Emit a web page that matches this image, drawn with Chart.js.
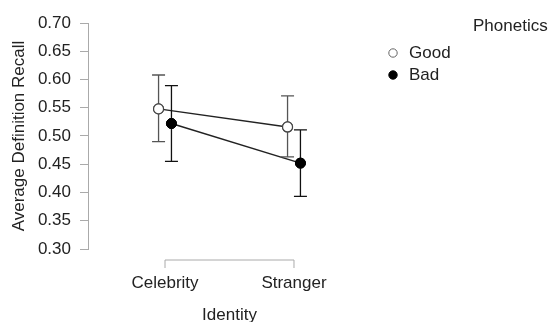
<!DOCTYPE html>
<html>
<head>
<meta charset="utf-8">
<script src="https://cdn.jsdelivr.net/npm/chart.js@4"></script>
<style>
  html, body { margin: 0; padding: 0; background: #fff; }
  #wrap { width: 551px; height: 322px; }
</style>
</head>
<body>
<div id="wrap"><canvas id="chartCanvas"></canvas></div>
<script>
// data
const categories = ['Celebrity', 'Stranger'];
const seriesNames = ['Good', 'Bad'];
const goodMean = [0.548, 0.516];
const goodLow = [0.490, 0.463];
const goodHigh = [0.608, 0.571];
const badMean = [0.522, 0.452];
const badLow = [0.455, 0.393];
const badHigh = [0.589, 0.511];
const yTicks = [0.30, 0.35, 0.40, 0.45, 0.50, 0.55, 0.60, 0.65, 0.70];

const dodge = 0.05;
const font = "'Liberation Sans', Arial, sans-serif";
const axisColor = '#aaaaaa';

function points(means, shift) {
    return means.map((m, i) => ({ x: i + shift, y: m }));
}

// error bars + bracket x axis + legend
const extras = {
    id: 'extras',
    afterDatasetsDraw(chart) {
        const ctx = chart.ctx;
        const xs = chart.scales.x;
        const ys = chart.scales.y;
        const bars = [[goodLow, goodHigh, -dodge, '#555555'], [badLow, badHigh, dodge, '#111111']];
        ctx.save();
        ctx.lineWidth = 1.3;
        bars.forEach(([lo, hi, shift, col]) => {
            ctx.strokeStyle = col;
            lo.forEach((v, i) => {
                const x = xs.getPixelForValue(i + shift);
                const y1 = ys.getPixelForValue(v);
                const y2 = ys.getPixelForValue(hi[i]);
                ctx.beginPath();
                ctx.moveTo(x, y1); ctx.lineTo(x, y2);
                ctx.moveTo(x - 6.5, y1); ctx.lineTo(x + 6.5, y1);
                ctx.moveTo(x - 6.5, y2); ctx.lineTo(x + 6.5, y2);
                ctx.stroke();
            });
        });
        ctx.restore();
        // redraw points on top of the bars
        chart.getSortedVisibleDatasetMetas().forEach(meta => {
            meta.data.forEach(pt => pt.draw(ctx, chart.chartArea));
        });
    },
    afterDraw(chart) {
        const ctx = chart.ctx;
        const xs = chart.scales.x;
        const a = chart.chartArea;
        ctx.save();
        // x axis bracket
        const yb = a.bottom + 11;
        const x0 = xs.getPixelForValue(0);
        const x1 = xs.getPixelForValue(categories.length - 1);
        ctx.strokeStyle = axisColor;
        ctx.lineWidth = 1;
        ctx.beginPath();
        ctx.moveTo(x0, yb + 8); ctx.lineTo(x0, yb); ctx.lineTo(x1, yb); ctx.lineTo(x1, yb + 8);
        ctx.stroke();
        // legend
        ctx.font = '17px ' + font;
        ctx.fillStyle = '#222';
        ctx.textBaseline = 'middle';
        ctx.textAlign = 'left';
        ctx.fillText('Phonetics', 473, 26);
        chart.data.datasets.forEach((ds, i) => {
            const y = 53 + i * 22;
            ctx.beginPath();
            ctx.arc(393, y, 4.2, 0, Math.PI * 2);
            ctx.fillStyle = ds.pointBackgroundColor;
            ctx.fill();
            ctx.lineWidth = 1;
            ctx.strokeStyle = i === 0 ? '#666' : '#000';
            ctx.stroke();
            ctx.fillStyle = '#222';
            ctx.fillText(ds.label, 409, y);
        });
        ctx.restore();
    }
};

const ctx = document.getElementById('chartCanvas').getContext('2d');
const chart = new Chart(ctx, {
    type: 'line',
    data: {
        datasets: [{
            label: seriesNames[0],
            data: points(goodMean, -dodge),
            borderColor: '#222',
            borderWidth: 1.5,
            pointRadius: 5,
            pointBackgroundColor: '#ffffff',
            pointBorderColor: '#444',
            pointBorderWidth: 1.2
        }, {
            label: seriesNames[1],
            data: points(badMean, dodge),
            borderColor: '#222',
            borderWidth: 1.5,
            pointRadius: 5,
            pointBackgroundColor: '#000000',
            pointBorderColor: '#000',
            pointBorderWidth: 1
        }]
    },
    options: {
        responsive: true,
        maintainAspectRatio: false,
        animation: false,
        layout: { padding: { top: 23, right: 180, left: 0, bottom: 0 } },
        plugins: { legend: { display: false }, tooltip: { enabled: false } },
        scales: {
            x: {
                type: 'linear',
                min: -0.597,
                max: 1.597,
                afterFit: s => { s.height = 73; },
                afterBuildTicks: s => { s.ticks = categories.map((c, i) => ({ value: i })); },
                grid: { display: false, drawTicks: false },
                border: { display: false },
                ticks: {
                    padding: 24,
                    color: '#222',
                    font: { family: font, size: 17 },
                    callback: v => categories[v]
                },
                title: {
                    display: true,
                    text: 'Identity',
                    color: '#222',
                    font: { family: font, size: 17, lineHeight: 0.82 },
                    padding: 0
                }
            },
            y: {
                min: 0.30,
                max: 0.70,
                afterFit: s => { s.width = 88; },
                afterBuildTicks: s => { s.ticks = yTicks.map(v => ({ value: v })); },
                grid: { drawOnChartArea: false, drawTicks: true, tickLength: 8, color: axisColor },
                border: { display: true, color: axisColor },
                ticks: {
                    padding: 9,
                    color: '#222',
                    font: { family: font, size: 17 },
                    callback: v => v.toFixed(2)
                },
                title: {
                    display: true,
                    text: 'Average Definition Recall',
                    color: '#222',
                    font: { family: font, size: 17 },
                    padding: { top: 9, bottom: 0 }
                }
            }
        }
    },
    plugins: [extras]
});
</script>
</body>
</html>
